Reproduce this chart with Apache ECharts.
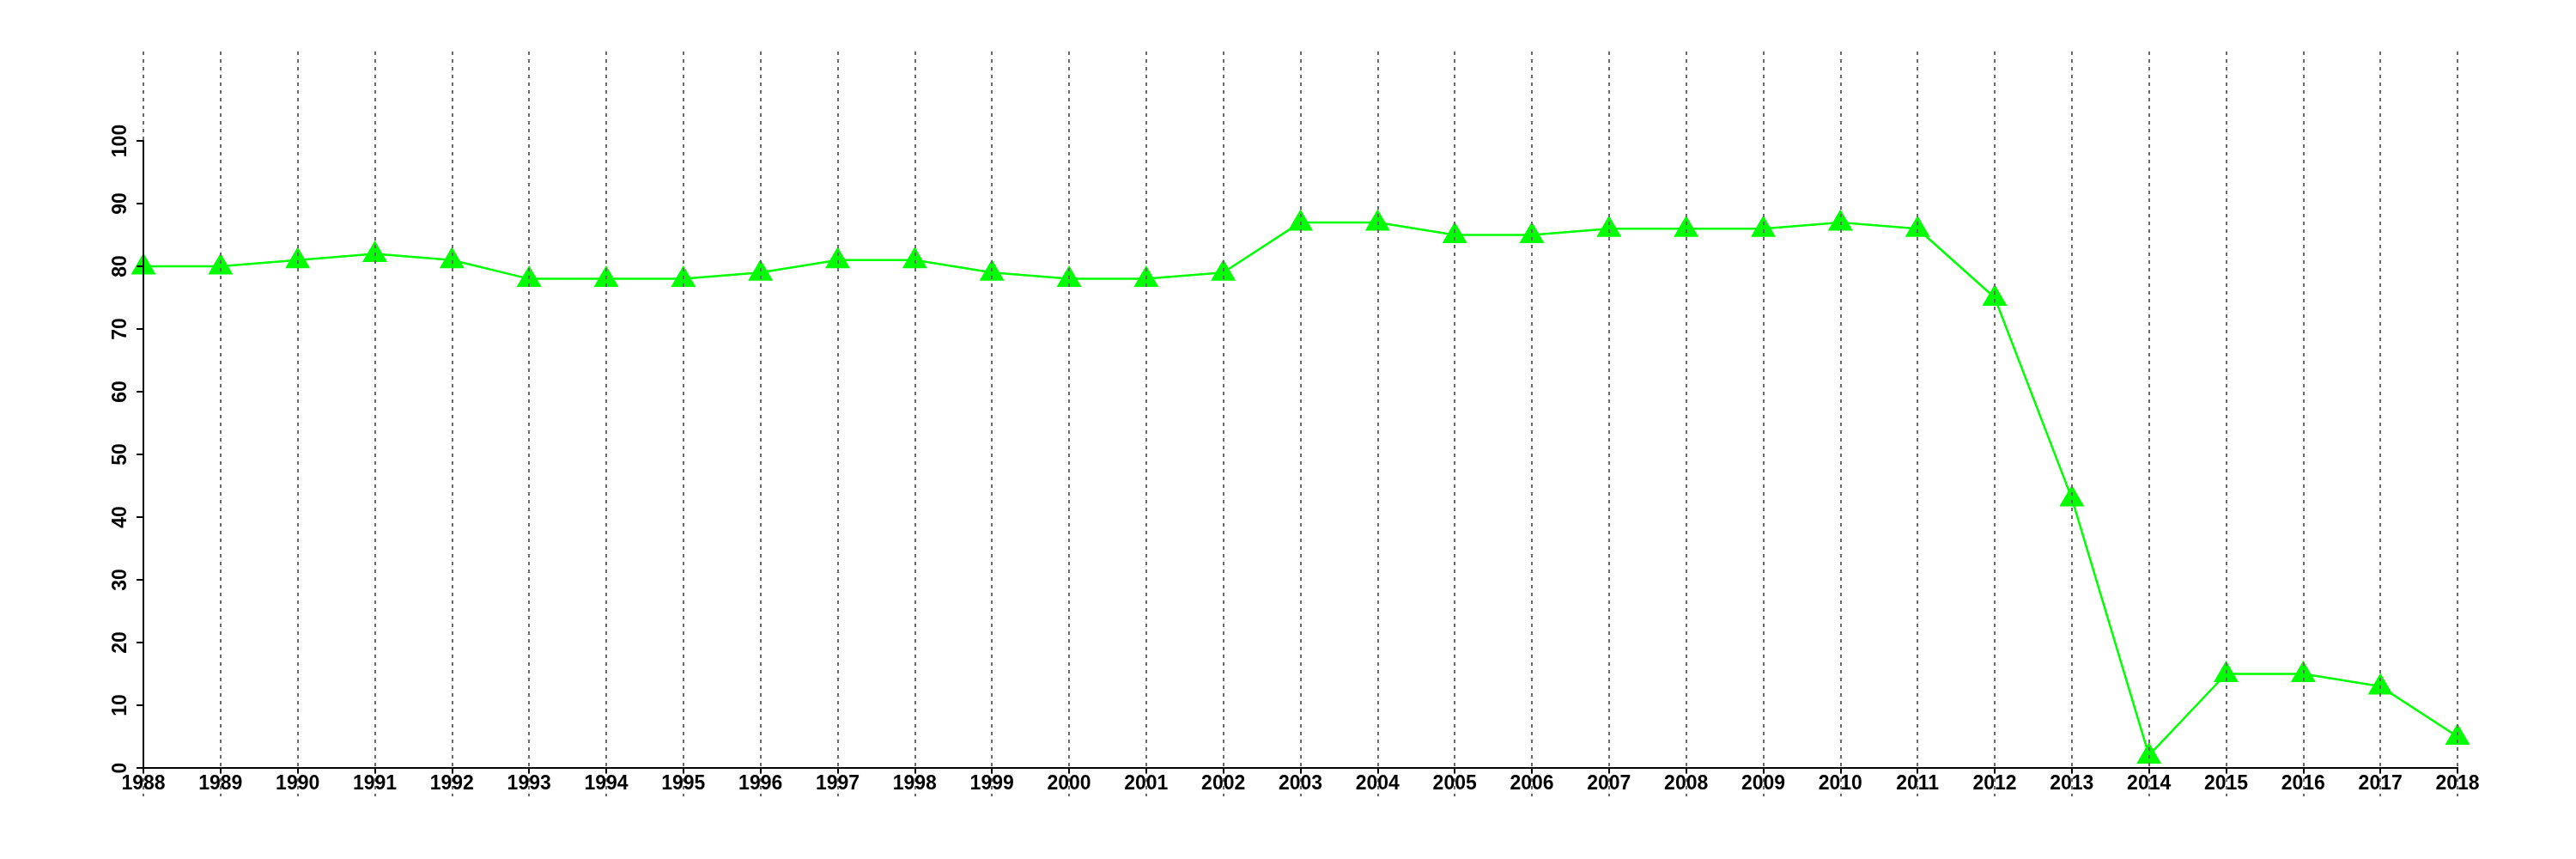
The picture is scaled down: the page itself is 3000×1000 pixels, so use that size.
<!DOCTYPE html>
<html>
<head>
<meta charset="utf-8">
<script src="https://cdn.jsdelivr.net/npm/echarts@6/dist/echarts.min.js"></script>
<style>html,body{margin:0;padding:0;background:#fff}#c{width:3000px;height:1000px}</style>
</head>
<body>
<div id="c"></div>
<script>
const years = ['1988','1989','1990','1991','1992','1993','1994','1995','1996','1997','1998','1999','2000','2001','2002','2003','2004','2005','2006','2007','2008','2009','2010','2011','2012','2013','2014','2015','2016','2017','2018'];
const values = [80,80,81,82,81,78,78,78,79,81,81,79,78,78,79,87,87,85,85,86,86,86,87,86,75,43,2,15,15,13,5];
const yTicks = {min: 0, max: 100, interval: 10};

const chart = echarts.init(document.getElementById('c'), null, {renderer: 'canvas'});
const font = {fontFamily: 'Liberation Sans, Arial, sans-serif', fontWeight: 'bold', fontSize: 23, color: '#000'};
chart.setOption({
  backgroundColor: '#ffffff',
  animation: false,
  grid: [
    {left: 167, right: 138, top: 60, bottom: 73},
    {left: 167, right: 138, top: 164, bottom: 106}
  ],
  xAxis: [
    {gridIndex: 0, type: 'category', data: years, boundaryGap: false, z: 2,
     axisLine: {show: false}, axisTick: {show: false}, axisLabel: {show: false},
     splitLine: {show: true, lineStyle: {color: '#6a6a6a', width: 2, type: [4, 5]}}},
    {gridIndex: 1, type: 'category', data: years, boundaryGap: false, z: 3,
     axisLine: {show: true, lineStyle: {color: '#000', width: 2}},
     axisTick: {show: true, length: 6, lineStyle: {color: '#000', width: 2}},
     axisLabel: Object.assign({margin: 7, interval: 0}, font),
     splitLine: {show: false}}
  ],
  yAxis: [
    {gridIndex: 0, type: 'value', show: false, splitLine: {show: false}},
    {gridIndex: 1, type: 'value', min: yTicks.min, max: yTicks.max, interval: yTicks.interval, z: 3,
     axisLine: {show: true, lineStyle: {color: '#000', width: 2}},
     axisTick: {show: true, length: 8, lineStyle: {color: '#000', width: 2}},
     axisLabel: Object.assign({margin: 15, rotate: 90}, font),
     splitLine: {show: false}}
  ],
  series: [{
    type: 'line', xAxisIndex: 1, yAxisIndex: 1, data: values, z: 1,
    symbol: 'triangle', symbolSize: [29, 25], symbolOffset: [0, -3],
    lineStyle: {color: '#00ff00', width: 2.5},
    itemStyle: {color: '#00ff00', borderWidth: 0},
    showAllSymbol: true
  }]
});
</script>
</body>
</html>
